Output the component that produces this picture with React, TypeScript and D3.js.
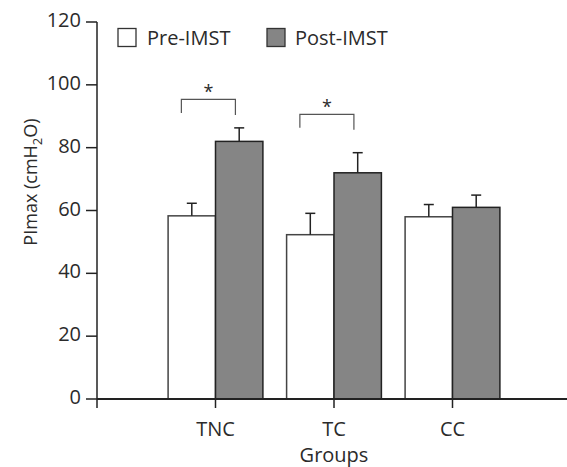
import React from 'react';
import * as d3 from 'd3';

const W = 567;
const H = 467;

const categories = ['TNC', 'TC', 'CC'];
const preValues = [58.3, 52.3, 58.0];
const preErrors = [4.0, 6.8, 3.9];
const postValues = [82.0, 72.0, 61.0];
const postErrors = [4.3, 6.4, 3.9];
const yTicks = [0, 20, 40, 60, 80, 100, 120];
const sigGroups = ['TNC', 'TC'];
const sigTop = [95.4, 90.6];
const sigBottom = [91.0, 86.3];

const FONT = "'Open Sans', sans-serif";
const TEXT = '#2b2b2b';
const LINE = '#222';

export default function App() {
  const x = d3.scalePoint<string>()
    .domain(['start', ...categories, 'end'])
    .range([97, 571]);
  const y = d3.scaleLinear().domain([0, 120]).range([399, 22]);
  const step = x.step();
  const barW = step * 0.4;
  const capW = 10;

  const errBar = (cx: number, v: number, e: number, key: string) => (
    <g key={key} stroke={LINE} strokeWidth={1.5}>
      <line x1={cx} x2={cx} y1={y(v)} y2={y(v + e)} />
      <line x1={cx - capW / 2} x2={cx + capW / 2} y1={y(v + e)} y2={y(v + e)} />
    </g>
  );

  return (
    <svg width={W} height={H} style={{ position: 'absolute', left: 0, top: 0, background: '#fff' }}>
      {/* bars */}
      {categories.map((c, i) => {
        const cx = x(c)!;
        return (
          <g key={c}>
            <rect x={cx - barW} y={y(preValues[i])} width={barW} height={y(0) - y(preValues[i])}
              fill="#fff" stroke="#444" strokeWidth={1.5} />
            <rect x={cx} y={y(postValues[i])} width={barW} height={y(0) - y(postValues[i])}
              fill="#858585" stroke={LINE} strokeWidth={1.5} />
            {errBar(cx - barW / 2, preValues[i], preErrors[i], 'pe')}
            {errBar(cx + barW / 2, postValues[i], postErrors[i], 'qe')}
          </g>
        );
      })}

      {/* significance brackets */}
      {sigGroups.map((g, i) => {
        const cx = x(g)!;
        const x1 = cx - barW * 0.72;
        const x2 = cx + barW * 0.42;
        return (
          <g key={g}>
            <path d={`M${x1},${y(sigBottom[i])}V${y(sigTop[i])}H${x2}V${y(sigBottom[i]) + 2}`}
              fill="none" stroke="#555" strokeWidth={1.2} />
            <text x={(x1 + x2) / 2} y={y(sigTop[i]) - 1} textAnchor="middle" fontFamily={FONT}
              fontSize={18} fill={TEXT}>*</text>
          </g>
        );
      })}

      {/* y axis */}
      <line x1={97} x2={97} y1={y(120)} y2={y(0)} stroke={LINE} strokeWidth={1.5} />
      {yTicks.map(t => (
        <g key={t}>
          <line x1={86} x2={97} y1={y(t)} y2={y(t)} stroke={LINE} strokeWidth={1.5} />
          <text x={81} y={y(t)} dy="0.25em" textAnchor="end" fontFamily={FONT} fontSize={20} fill={TEXT}>{t}</text>
        </g>
      ))}
      <text transform={`translate(37,182) rotate(-90)`} textAnchor="middle" fontFamily={FONT} fontSize={18} fill={TEXT}>
        PImax (cmH<tspan fontSize={13} dy={5}>2</tspan><tspan dy={-5}>O)</tspan>
      </text>

      {/* x axis */}
      <line x1={97} x2={W} y1={y(0)} y2={y(0)} stroke={LINE} strokeWidth={2} />
      {['start', ...categories].map(c => (
        <line key={c} x1={x(c)} x2={x(c)} y1={y(0)} y2={y(0) + 9} stroke={LINE} strokeWidth={1.5} />
      ))}
      {categories.map(c => (
        <text key={c} x={x(c)} y={436} textAnchor="middle" fontFamily={FONT} fontSize={20} fill={TEXT}>{c}</text>
      ))}
      <text x={x('TC')} y={462} textAnchor="middle" fontFamily={FONT} fontSize={20} fill={TEXT}>Groups</text>

      {/* legend */}
      <rect x={118} y={28.5} width={18} height={18} fill="#fff" stroke="#333" strokeWidth={1.3} />
      <text x={147} y={45} fontFamily={FONT} fontSize={20} fill={TEXT}>Pre-IMST</text>
      <rect x={267} y={28.5} width={18} height={18} fill="#858585" stroke="#333" strokeWidth={1.3} />
      <text x={295} y={45} fontFamily={FONT} fontSize={20} fill={TEXT}>Post-IMST</text>
    </svg>
  );
}
